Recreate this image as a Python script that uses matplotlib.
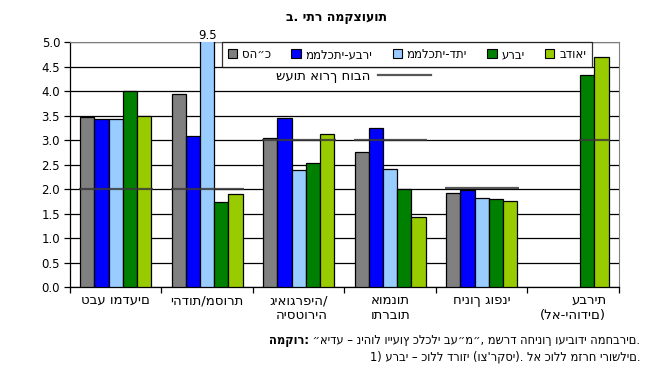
import matplotlib

matplotlib.use("Agg", force=True)
import matplotlib.pyplot as plt
import numpy as np
from matplotlib.lines import Line2D
from matplotlib.patches import Patch

plt.rcParams["font.family"] = ["DejaVu Sans"]

# data
categories = [
    "טבע ומדעים",
    "יהדות/מסורת",
    "גיאוגרפיה/\nהיסטוריה",
    "אומנות\nותרבות",
    "חינוך גופני",
    "עברית\n(לא-יהודים)",
]
series_names = ["סה״כ", "ממלכתי-עברי", "ממלכתי-דתי", "ערבי", "בדואי"]
total = [3.47, 3.95, 3.05, 2.75, 1.91, np.nan]
state_hebrew = [3.42, 3.08, 3.45, 3.24, 1.99, np.nan]
state_religious = [3.42, 9.5, 2.38, 2.40, 1.81, np.nan]
arab = [4.00, 1.73, 2.54, 2.01, 1.79, 4.33]
bedouin = [3.50, 1.90, 3.12, 1.44, 1.75, 4.69]
required_hours = [2.0, 2.0, 3.0, 3.0, 2.03, 3.0]
hours_label = "שעות אורך חובה"
title = "ב. יתר המקצועות"
source_bold = "המקור:"
source_rest = " ״אידע – ניהול וייעוץ כלכלי בע״מ״, משרד החינוך ועיבודי המחברים."
note = "1) ערבי – כולל דרוזי (וצ'רקסי). לא כולל מזרח ירושלים."

colors = ["#808080", "#0000FF", "#99CCFF", "#008000", "#99CC00"]

fig = plt.figure(figsize=(6.72, 3.69), dpi=100)
ax = fig.add_axes([0.104, 0.222, 0.817, 0.664])

series = [total, state_hebrew, state_religious, arab, bedouin]
n_series = len(series)
bar_w = 0.155
x = np.arange(len(categories))
offsets = (np.arange(n_series) - (n_series - 1) / 2) * bar_w

for k, (vals, color) in enumerate(zip(series, colors)):
    ax.bar(x + offsets[k], vals, width=bar_w, color=color, edgecolor="black",
           linewidth=0.9, zorder=3)

# required-hours line over each group (only where bars exist)
for i, h in enumerate(required_hours):
    present = [k for k in range(n_series) if not np.isnan(series[k][i])]
    left = x[i] + offsets[present[0]] - bar_w / 2 - 0.01
    right = x[i] + offsets[present[-1]] + bar_w / 2 + 0.02
    ax.plot([left, right], [h, h], color="#3a3a3a", linewidth=1.6, alpha=0.85,
            zorder=4, solid_capstyle="butt")

# clipped value label
ax.text(x[1] + offsets[2], 5.0, "9.5", ha="center", va="bottom", fontsize=8.5,
        clip_on=False)

ax.set_xlim(-0.5, len(categories) - 0.5)
ax.set_ylim(0, 5.0)
yticks = np.arange(0, 5.01, 0.5)
ax.set_yticks(yticks)
ax.set_yticklabels([f"{v:.1f}" for v in yticks], fontsize=8.5)
ax.yaxis.grid(True, color="black", linewidth=0.9, zorder=0)
ax.set_axisbelow(True)
ax.tick_params(axis="y", direction="out", length=4, width=0.9, pad=3)

ax.set_xticks(x)
ax.set_xticklabels(categories, fontsize=9.5, ma="right")
ax.set_xticks(np.arange(-0.5, len(categories), 1.0), minor=True)
ax.tick_params(axis="x", which="major", length=0, pad=5)
ax.tick_params(axis="x", which="minor", direction="out", length=4, width=0.9)

for side in ["top", "right"]:
    ax.spines[side].set_color("#808080")
for side in ["left", "bottom"]:
    ax.spines[side].set_color("black")
    ax.spines[side].set_linewidth(0.9)

# legends
handles = [Patch(facecolor=c, edgecolor="black", linewidth=0.8) for c in colors]
leg = ax.legend(handles, series_names, ncol=5, loc="upper left",
                bbox_to_anchor=(0.277, 1.0, 0.674, 0.0), mode="expand",
                fontsize=8.5, frameon=True, fancybox=False, handlelength=0.8,
                handleheight=0.8, handletextpad=0.4, borderaxespad=0.0,
                borderpad=0.5, columnspacing=1.0)
leg.get_frame().set_edgecolor("black")
leg.get_frame().set_linewidth(0.9)
leg.set_zorder(6)
ax.add_artist(leg)

line_handle = Line2D([], [], color="#3a3a3a", linewidth=1.6, alpha=0.85)
ax.legend([line_handle], [hours_label], loc="center right",
          bbox_to_anchor=(0.658, 0.861), frameon=False, fontsize=9.5,
          markerfirst=False, handlelength=4.0, handletextpad=0.6,
          borderaxespad=0.0, borderpad=0.0)

fig.text(0.5, 0.953, title, ha="center", va="center", fontsize=9,
         fontweight="bold")

# source line: regular text right-aligned, bold label to its left
rest = fig.text(0.953, 0.076, source_rest, ha="right", va="center", fontsize=8.3)
ax.annotate(source_bold, xy=(0, 0.5), xycoords=rest, ha="right", va="center",
            fontsize=8.3, fontweight="bold", annotation_clip=False)
fig.text(0.953, 0.033, note, ha="right", va="center", fontsize=8.3)

fig.savefig("out.png", dpi=100)
